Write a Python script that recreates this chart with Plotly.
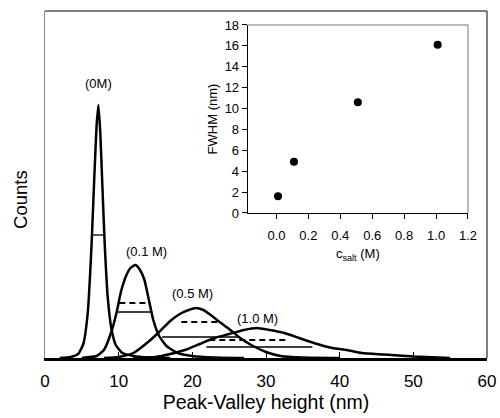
import plotly.graph_objects as go

# ---- main histogram curves (x in nm, counts in arbitrary units) ----
x_0M = [2, 3.5, 4.5, 5.2, 5.8, 6.3, 6.7, 7.0, 7.25, 7.5, 7.8, 8.1, 8.5, 9.0, 9.6, 10.5, 12, 14, 17]
y_0M = [0, 1, 4, 14, 45, 110, 182, 232, 253, 226, 170, 115, 62, 30, 13, 5, 2, 0.5, 0]

x_01M = [5, 7, 8, 9, 9.7, 10.3, 11, 11.6, 12.3, 12.9, 13.5, 14.1, 14.7, 15.5, 16.5, 18, 20, 23, 27]
y_01M = [0, 2, 8, 26, 45, 66, 82, 90, 93, 88, 78, 58, 38, 22, 12, 5, 2, 0.5, 0]

x_05M = [8, 10, 12, 14, 15.5, 17, 18.3, 19.5, 20.5, 21.5, 22.5, 23.7, 25, 26.5, 28, 30, 32, 35, 40]
y_05M = [0, 1, 5, 16, 26, 37, 44, 48, 50, 48, 43, 36, 29, 20, 13, 6, 2, 0.5, 0]

x_10M = [12, 15, 17, 19, 21, 23, 25, 27, 28.7, 30.5, 32.5, 34.5, 36.5, 39, 41, 43, 46, 50, 55]
y_10M = [0, 1, 4, 8, 14, 20, 24, 28, 30, 28, 25, 20, 15, 10, 8, 5, 3.5, 1.5, 0]

curve_labels = ["(0M)", "(0.1 M)", "(0.5 M)", "(1.0 M)"]
label_x = [7.3, 13.8, 20.0, 28.8]
label_y = [275, 107, 65, 40]

# half-width marker lines: level, x start, x end
solid_level = [123, 46, 21, 11]
solid_x0 = [6.5, 9.7, 15.9, 21.9]
solid_x1 = [8.0, 14.4, 26.4, 36.3]
dash_level = [55, 36, 18]
dash_x0 = [10.1, 18.5, 22.3]
dash_x1 = [13.9, 23.7, 32.8]

# ---- inset: FWHM vs salt concentration ----
c_salt = [0.01, 0.11, 0.51, 1.01]
fwhm = [1.6, 4.9, 10.6, 16.1]

x_ticks = [0, 10, 20, 30, 40, 50, 60]
inset_xticks = [0.0, 0.2, 0.4, 0.6, 0.8, 1.0, 1.2]
inset_yticks = [0, 2, 4, 6, 8, 10, 12, 14, 16, 18]

FONT = "Liberation Sans, Arial, sans-serif"

fig = go.Figure()

for xs, ys in [(x_0M, y_0M), (x_01M, y_01M), (x_05M, y_05M), (x_10M, y_10M)]:
    fig.add_trace(go.Scatter(x=xs, y=ys, mode="lines",
                             line=dict(color="black", width=2.5, shape="spline", smoothing=0.5),
                             showlegend=False, hoverinfo="skip"))

sx, sy = [], []
for lv, a, b in zip(solid_level, solid_x0, solid_x1):
    sx += [a, b, None]
    sy += [lv, lv, None]
fig.add_trace(go.Scatter(x=sx, y=sy, mode="lines", line=dict(color="black", width=1.3),
                         showlegend=False, hoverinfo="skip"))
dx, dy = [], []
for lv, a, b in zip(dash_level, dash_x0, dash_x1):
    dx += [a, b, None]
    dy += [lv, lv, None]
fig.add_trace(go.Scatter(x=dx, y=dy, mode="lines", line=dict(color="black", width=1.8, dash="6px,4px"),
                         showlegend=False, hoverinfo="skip"))

for t, lx, ly in zip(curve_labels, label_x, label_y):
    fig.add_annotation(x=lx, y=ly, text=t, showarrow=False,
                       font=dict(family=FONT, size=13, color="black"))

# y-axis title placed as rotated text (centred lower than the axis middle, as in the reference)
fig.add_annotation(xref="paper", yref="paper", x=-0.057, y=0.458, text="Counts",
                   xanchor="center", yanchor="middle",
                   textangle=-90, showarrow=False, font=dict(family=FONT, size=18.5, color="black"))

fig.add_trace(go.Scatter(x=c_salt, y=fwhm, mode="markers", xaxis="x2", yaxis="y2",
                         marker=dict(color="black", size=8), showlegend=False, hoverinfo="skip"))

fig.update_layout(
    width=500, height=418,
    margin=dict(l=45, r=13, t=11, b=60, autoexpand=False),
    paper_bgcolor="white", plot_bgcolor="white",
    font=dict(family=FONT, color="black"),
    xaxis=dict(range=[0, 60], tickvals=x_ticks, ticks="inside", ticklen=6, tickcolor="black",
               showgrid=False, zeroline=False, showline=True, linecolor="black", linewidth=2.5,
               automargin=False, ticklabelstandoff=6,
               tickfont=dict(size=17), title=dict(text="Peak-Valley height (nm)", font=dict(size=19.5), standoff=6)),
    yaxis=dict(range=[0, 347], showticklabels=False, ticks="", showgrid=False, zeroline=False,
               showline=True, linecolor="#888888", linewidth=1, automargin=False),
    xaxis2=dict(domain=[0.4586, 0.957], anchor="y2", range=[-0.18, 1.2], tickvals=inset_xticks,
                tickformat=".1f", ticks="outside", ticklen=5, tickcolor="black",
                showgrid=False, zeroline=False, showline=True, linecolor="black", linewidth=1,
                automargin=False, ticklabelstandoff=5,
                tickfont=dict(size=13),
                title=dict(text="c<sub>salt</sub> (M)", font=dict(size=13), standoff=7)),
    yaxis2=dict(domain=[0.4179, 0.9597], anchor="x2", range=[0, 18], tickvals=inset_yticks,
                ticks="outside", ticklen=5, tickcolor="black",
                showgrid=False, zeroline=False, showline=True, linecolor="black", linewidth=1,
                automargin=False,
                tickfont=dict(size=13),
                title=dict(text="FWHM (nm)", font=dict(size=13), standoff=4)),
    shapes=[
        dict(type="line", xref="paper", yref="paper", x0=0, x1=1, y0=1, y1=1,
             line=dict(color="black", width=1)),
        dict(type="line", xref="paper", yref="paper", x0=1, x1=1, y0=0, y1=1,
             line=dict(color="black", width=1)),
        dict(type="line", xref="x2 domain", yref="y2 domain", x0=0, x1=1, y0=1, y1=1,
             line=dict(color="#777777", width=1)),
        dict(type="line", xref="x2 domain", yref="y2 domain", x0=1, x1=1, y0=0, y1=1,
             line=dict(color="#777777", width=1)),
    ],
)

fig.write_html("out.html")
